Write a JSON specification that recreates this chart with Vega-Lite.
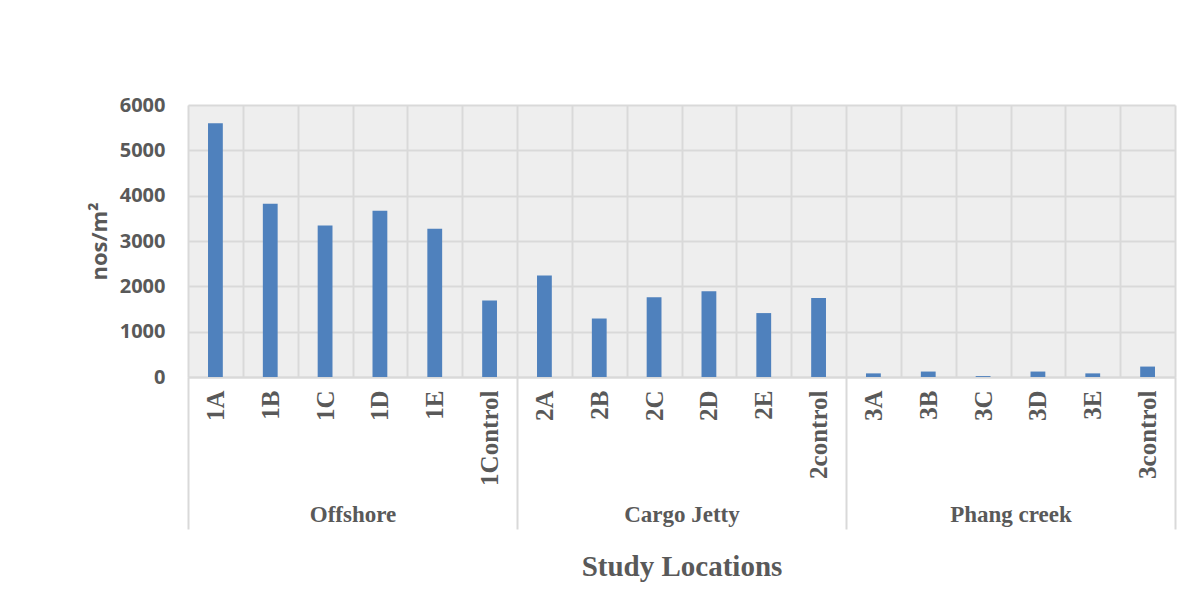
{
  "$schema": "https://vega.github.io/schema/vega-lite/v6.json",
  "width": 987,
  "height": 272,
  "autosize": "none",
  "padding": {"left": 188, "top": 105, "right": 28, "bottom": 213},
  "background": "white",
  "config": {"view": {"fill": "#eeeeee", "stroke": null}},
  "data": {"values": [
    {"location": "1A", "group": "Offshore", "value": 5600},
    {"location": "1B", "group": "Offshore", "value": 3820},
    {"location": "1C", "group": "Offshore", "value": 3340},
    {"location": "1D", "group": "Offshore", "value": 3670},
    {"location": "1E", "group": "Offshore", "value": 3270},
    {"location": "1Control", "group": "Offshore", "value": 1690},
    {"location": "2A", "group": "Cargo Jetty", "value": 2240},
    {"location": "2B", "group": "Cargo Jetty", "value": 1290},
    {"location": "2C", "group": "Cargo Jetty", "value": 1760},
    {"location": "2D", "group": "Cargo Jetty", "value": 1890},
    {"location": "2E", "group": "Cargo Jetty", "value": 1410},
    {"location": "2control", "group": "Cargo Jetty", "value": 1740},
    {"location": "3A", "group": "Phang creek", "value": 80},
    {"location": "3B", "group": "Phang creek", "value": 120},
    {"location": "3C", "group": "Phang creek", "value": 20},
    {"location": "3D", "group": "Phang creek", "value": 120},
    {"location": "3E", "group": "Phang creek", "value": 80},
    {"location": "3control", "group": "Phang creek", "value": 230}
  ]},
  "layer": [
    {
      "mark": {"type": "bar", "color": "#4f81bd", "width": {"band": 0.27}},
      "encoding": {
        "x": {
          "field": "location", "type": "nominal", "sort": null,
          "scale": {"paddingInner": 0, "paddingOuter": 0},
          "axis": {
            "orient": "bottom",
            "title": null,
            "tickBand": "extent",
            "grid": true, "gridColor": "#d9d9d9", "gridWidth": 2,
            "ticks": false, "tickSize": 0,
            "domain": true, "domainColor": "#d9d9d9", "domainWidth": 2,
            "labelAngle": 270,
            "labelFont": "Liberation Serif", "labelFontWeight": "bold", "labelFontSize": 25,
            "labelColor": "#595959", "labelPadding": 13,
            "labelOverlap": false, "labelBound": false
          }
        },
        "y": {
          "field": "value", "type": "quantitative",
          "scale": {"domain": [0, 6000], "nice": false},
          "axis": {
            "title": "nos/m²",
            "format": "d",
            "values": [0, 1000, 2000, 3000, 4000, 5000, 6000],
            "grid": true, "gridColor": "#d9d9d9", "gridWidth": 2,
            "domain": false, "ticks": false,
            "labelFont": "Open Sans", "labelFontWeight": "bold", "labelFontSize": 20,
            "labelColor": "#595959", "labelPadding": 23,
            "titleFont": "Open Sans", "titleFontWeight": "bold", "titleFontSize": 22,
            "titleColor": "#595959", "titlePadding": 8
          }
        }
      }
    },
    {
      "mark": {"type": "bar", "opacity": 0},
      "encoding": {
        "x": {
          "field": "location", "type": "nominal", "sort": null,
          "axis": {
            "orient": "bottom",
            "title": "Study Locations",
            "titleFont": "Liberation Serif", "titleFontWeight": "bold", "titleFontSize": 29,
            "titleColor": "#595959", "titlePadding": 22,
            "tickBand": "extent",
            "grid": false, "domain": false,
            "ticks": true, "tickSize": 152, "tickWidth": 2, "tickColor": "#d9d9d9",
            "tickOpacity": {"condition": {"test": "datum.value === '1Control' || datum.value === '2control' || datum.value === '3control' || datum.extra", "value": 1}, "value": 0},
            "labelExpr": "datum.value === '1C' ? 'Offshore' : datum.value === '2C' ? 'Cargo Jetty' : datum.value === '3C' ? 'Phang creek' : ''",
            "labelAngle": 0, "labelOffset": 27.4, "labelPadding": -26,
            "labelFont": "Liberation Serif", "labelFontWeight": "bold", "labelFontSize": 23,
            "labelColor": "#595959", "labelOverlap": false, "labelBound": false
          }
        },
        "y": {"field": "value", "type": "quantitative"}
      }
    }
  ],
  "resolve": {"axis": {"x": "independent"}}
}
